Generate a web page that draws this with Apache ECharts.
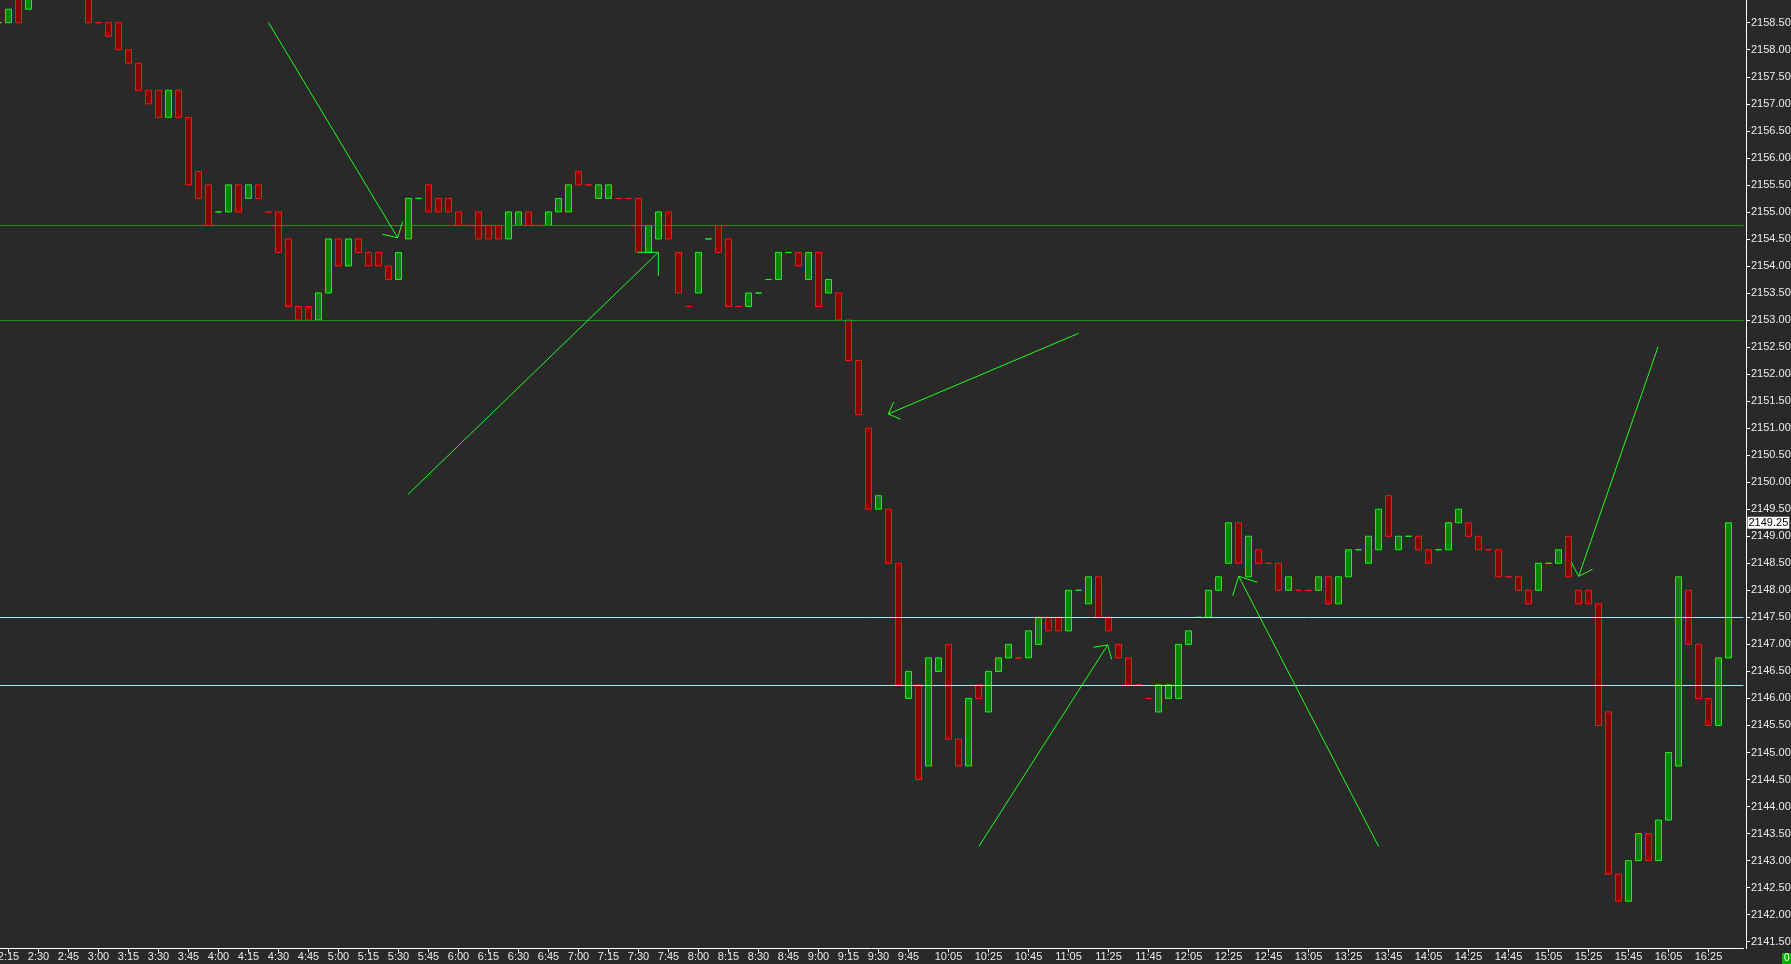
<!DOCTYPE html>
<html><head><meta charset="utf-8">
<script src="https://cdn.jsdelivr.net/npm/echarts@6/dist/echarts.min.js"></script>
<style>html,body{margin:0;padding:0;background:#292929;overflow:hidden}#c{width:1791px;height:964px}</style>
</head><body><div id="c"></div>
<script>
// ---- data (5-minute bars, first bar 2:10) ----
const firstBarTime = '2:10';
const barMinutes = 5;
const opens = [
 2158.5, 2158.5, 2159.25, 2158.75, 2159.75, 2159.5, 2159.25, 2159.75, 2159.5, 2159.25,
 2158.5, 2158.5, 2158.5, 2158.0, 2157.75, 2157.25, 2157.25, 2156.75, 2157.25, 2156.75,
 2155.75, 2155.5, 2155.0, 2155.0, 2155.5, 2155.25, 2155.5, 2155.0, 2155.0, 2154.5,
 2153.25, 2153.25, 2153.0, 2153.5, 2154.5, 2154.0, 2154.5, 2154.25, 2154.25, 2154.0,
 2153.75, 2154.5, 2155.25, 2155.5, 2155.25, 2155.25, 2155.0, 2154.75, 2155.0, 2154.75,
 2154.75, 2154.5, 2154.75, 2155.0, 2154.75, 2154.75, 2155.0, 2155.0, 2155.75, 2155.5,
 2155.25, 2155.25, 2155.25, 2155.25, 2155.25, 2154.25, 2154.5, 2155.0, 2154.25, 2153.25,
 2153.5, 2154.5, 2154.75, 2154.5, 2153.25, 2153.25, 2153.5, 2153.75, 2153.75, 2154.25,
 2154.25, 2153.75, 2154.25, 2153.5, 2153.5, 2153.0, 2152.25, 2151.0, 2149.5, 2149.5,
 2148.5, 2146.0, 2146.25, 2144.75, 2146.5, 2147.0, 2145.25, 2144.75, 2146.25, 2145.75,
 2146.5, 2146.75, 2146.75, 2146.75, 2147.0, 2147.5, 2147.5, 2147.25, 2148.0, 2147.75,
 2148.25, 2147.5, 2147.0, 2146.75, 2146.25, 2146.0, 2145.75, 2146.0, 2146.0, 2147.0,
 2147.5, 2147.5, 2148.0, 2148.5, 2149.25, 2148.25, 2148.75, 2148.5, 2148.5, 2148.0,
 2148.0, 2148.0, 2148.0, 2148.25, 2147.75, 2148.25, 2148.75, 2148.5, 2148.75, 2149.75,
 2148.75, 2149.0, 2149.0, 2148.75, 2148.75, 2148.75, 2149.25, 2149.25, 2149.0, 2148.75,
 2148.75, 2148.25, 2148.25, 2148.0, 2148.0, 2148.5, 2148.5, 2149.0, 2148.0, 2148.0,
 2147.75, 2145.75, 2142.75, 2142.25, 2143.0, 2143.5, 2143.0, 2143.75, 2144.75, 2148.0,
 2147.0, 2146.0, 2145.5, 2146.75
];
const closes = [
 2158.5, 2158.75, 2158.5, 2159.5, 2159.5, 2159.25, 2159.75, 2159.5, 2159.25, 2158.5,
 2158.5, 2158.25, 2158.0, 2157.75, 2157.25, 2157.0, 2156.75, 2157.25, 2156.75, 2155.5,
 2155.25, 2154.75, 2155.0, 2155.5, 2155.0, 2155.5, 2155.25, 2155.0, 2154.25, 2153.25,
 2153.0, 2153.0, 2153.5, 2154.5, 2154.0, 2154.5, 2154.25, 2154.0, 2154.0, 2153.75,
 2154.25, 2155.25, 2155.25, 2155.0, 2155.0, 2155.0, 2154.75, 2154.75, 2154.5, 2154.5,
 2154.5, 2155.0, 2155.0, 2154.75, 2154.75, 2155.0, 2155.25, 2155.5, 2155.5, 2155.5,
 2155.5, 2155.5, 2155.25, 2155.25, 2154.25, 2154.75, 2155.0, 2154.5, 2153.5, 2153.25,
 2154.25, 2154.5, 2154.25, 2153.25, 2153.25, 2153.5, 2153.5, 2153.75, 2154.25, 2154.25,
 2154.0, 2154.25, 2153.25, 2153.75, 2153.0, 2152.25, 2151.25, 2149.5, 2149.75, 2148.5,
 2146.25, 2146.5, 2144.5, 2146.75, 2146.75, 2145.25, 2144.75, 2146.0, 2146.0, 2146.5,
 2146.75, 2147.0, 2146.75, 2147.25, 2147.5, 2147.25, 2147.25, 2148.0, 2148.0, 2148.25,
 2147.5, 2147.25, 2146.75, 2146.25, 2146.25, 2146.0, 2146.25, 2146.25, 2147.0, 2147.25,
 2147.5, 2148.0, 2148.25, 2149.25, 2148.5, 2149.0, 2148.5, 2148.5, 2148.0, 2148.25,
 2148.0, 2148.0, 2148.25, 2147.75, 2148.25, 2148.75, 2148.75, 2149.0, 2149.5, 2149.0,
 2149.0, 2149.0, 2148.75, 2148.5, 2148.75, 2149.25, 2149.5, 2149.0, 2148.75, 2148.75,
 2148.25, 2148.25, 2148.0, 2147.75, 2148.5, 2148.5, 2148.75, 2148.25, 2147.75, 2147.75,
 2145.5, 2142.75, 2142.25, 2143.0, 2143.5, 2143.0, 2143.75, 2145.0, 2148.25, 2147.0,
 2146.0, 2145.5, 2146.75, 2149.25
];
const xTickLabels = ['2:15','2:30','2:45','3:00','3:15','3:30','3:45','4:00','4:15','4:30','4:45',
 '5:00','5:15','5:30','5:45','6:00','6:15','6:30','6:45','7:00','7:15','7:30','7:45','8:00',
 '8:15','8:30','8:45','9:00','9:15','9:30','9:45','10:05','10:25','10:45','11:05','11:25',
 '11:45','12:05','12:25','12:45','13:05','13:25','13:45','14:05','14:25','14:45','15:05',
 '15:25','15:45','16:05','16:25'];
const yTickValues = [2141.5,2142,2142.5,2143,2143.5,2144,2144.5,2145,2145.5,2146,2146.5,2147,
 2147.5,2148,2148.5,2149,2149.5,2150,2150.5,2151,2151.5,2152,2152.5,2153,2153.5,2154,2154.5,
 2155,2155.5,2156,2156.5,2157,2157.5,2158,2158.5];
const yMin = 2141.374, yMax = 2158.92;
const greenLevels = [2154.75, 2153.00];
const cyanLevels = [2147.50, 2146.25];
// hand-drawn arrows: [slotFrom, priceFrom, slotTip, priceTip]
const arrowShafts = [
 [26.98, 2158.508, 39.92, 2154.523],
 [40.93, 2149.771, 65.98, 2154.253],
 [108.02, 2152.755, 88.98, 2151.262],
 [98.04, 2143.263, 110.92, 2146.989],
 [138.01, 2143.263, 124.02, 2148.260],
 [165.95, 2152.501, 158.02, 2148.260]
];
// arrow heads: two barb ends [slot1, price1, slot2, price2]
const arrowBarbs = [
 [38.38, 2154.586, 40.42, 2154.819],
 [63.95, 2154.253, 65.98, 2153.820],
 [89.52, 2151.484, 90.22, 2151.164],
 [109.48, 2146.946, 111.32, 2146.724],
 [123.42, 2147.901, 125.88, 2148.149],
 [157.28, 2148.520, 159.40, 2148.389]
];

// ---- build ----
const UP_FILL = '#008500', UP_LINE = '#1cf01c', DN_FILL = '#8b0000', DN_LINE = '#ff1414';
const cats = [];
(function(){
  const p = firstBarTime.split(':');
  let m = (+p[0]) * 60 + (+p[1]);
  for (let i = 0; i <= opens.length; i++) {
    const t = m + i * barMinutes;
    cats.push(Math.floor(t / 60) + ':' + String(t % 60).padStart(2, '0'));
  }
})();
const candleData = [];
let prevDir = 1;
for (let i = 0; i < opens.length; i++) {
  const o = opens[i], c = closes[i];
  let dir;
  if (c > o) dir = 1; else if (c < o) dir = -1;
  else if (i > 0 && c > closes[i-1]) dir = 1;
  else if (i > 0 && c < closes[i-1]) dir = -1;
  else dir = prevDir;
  prevDir = dir;
  const item = { value: [o, c, Math.min(o, c), Math.max(o, c)] };
  if (o === c) {
    const col = dir > 0 ? UP_LINE : DN_LINE;
    item.itemStyle = { color: col, color0: col, borderColor: col, borderColor0: col, borderColorDoji: col };
  }
  candleData.push(item);
}
candleData.push('-');

const showTick = (idx, val) => xTickLabels.indexOf(val) >= 0;
const levelLines = greenLevels.map(v => ({ yAxis: v, lineStyle: { color: '#238c23' } }))
  .concat(cyanLevels.map(v => ({ yAxis: v, lineStyle: { color: '#a2ecec' } })));

const chart = echarts.init(document.getElementById('c'), null, { renderer: 'canvas' });
chart.setOption({
  backgroundColor: '#292929',
  animation: false,
  textStyle: { fontFamily: 'Liberation Sans' },
  grid: { left: -6.5, right: 47.5, top: 0, bottom: 15.5, containLabel: false, outerBoundsMode: 'none' },
  xAxis: {
    type: 'category', data: cats, boundaryGap: true,
    axisLine: { show: true, lineStyle: { color: '#ffffff', width: 1 } },
    axisTick: { show: true, interval: showTick, alignWithLabel: true, length: 4, lineStyle: { color: '#ffffff' } },
    axisLabel: { interval: showTick, color: '#ececec', fontSize: 11, margin: 3, hideOverlap: false, fontFamily: 'Liberation Sans' },
    splitLine: { show: false }
  },
  yAxis: {
    type: 'value', position: 'right', min: yMin, max: yMax, offset: 2.5, scale: true,
    axisLine: { show: true, lineStyle: { color: '#ffffff', width: 1 } },
    axisTick: { show: true, length: 4, customValues: yTickValues, lineStyle: { color: '#ffffff' } },
    axisLabel: { customValues: yTickValues, formatter: v => v.toFixed(2), color: '#ececec', fontSize: 11, margin: 5, fontFamily: 'Liberation Sans', showMinLabel: true, showMaxLabel: true },
    splitLine: { show: false }
  },
  series: [
    {
      type: 'candlestick', data: candleData, barWidth: 6, clip: true, z: 2,
      itemStyle: { color: UP_FILL, color0: DN_FILL, borderColor: UP_LINE, borderColor0: DN_LINE, borderWidth: 1 },
      markLine: {
        silent: true, symbol: 'none', z: 5,
        lineStyle: { color: 'transparent', width: 0 },
        label: {
          show: true, position: 'end', distance: 4,
          formatter: p => Number(p.value).toFixed(2),
          color: '#000000', backgroundColor: '#ffffff', padding: [1, 1, 0, 1],
          fontSize: 11, fontFamily: 'Liberation Sans'
        },
        data: [{ yAxis: closes[closes.length - 1] }]
      }
    },
    {
      type: 'line', data: [], z: 4, silent: true,
      markLine: {
        silent: true, symbol: 'none', animation: false,
        label: { show: false },
        lineStyle: { type: 'solid', width: 1 },
        data: levelLines
      }
    }
  ]
});

// arrows drawn in data space
const xA = chart.convertToPixel({ xAxisIndex: 0 }, cats[0]);
const xB = chart.convertToPixel({ xAxisIndex: 0 }, cats[1]);
const band = xB - xA;
const P = (slot, price) => [xA + slot * band, chart.convertToPixel({ yAxisIndex: 0 }, price)];
const graphics = [];
arrowShafts.forEach((s, i) => {
  const b = arrowBarbs[i];
  const from = P(s[0], s[1]), tip = P(s[2], s[3]);
  graphics.push({ type: 'polyline', silent: true, z: 10, shape: { points: [from, tip] }, style: { stroke: '#1eff1e', lineWidth: 1, fill: null } });
  graphics.push({ type: 'polyline', silent: true, z: 10, shape: { points: [P(b[0], b[1]), tip, P(b[2], b[3])] }, style: { stroke: '#1eff1e', lineWidth: 1, fill: null } });
});
graphics.push({ type: 'rect', silent: true, z: 10, shape: { x: 1782, y: 953, width: 12, height: 11 }, style: { fill: '#00b400' } });
graphics.push({ type: 'text', silent: true, z: 11, x: 1784, y: 953, style: { text: '0', fill: '#ffffff', font: '10px Liberation Sans' } });
chart.setOption({ graphic: graphics });
</script>
</body></html>
